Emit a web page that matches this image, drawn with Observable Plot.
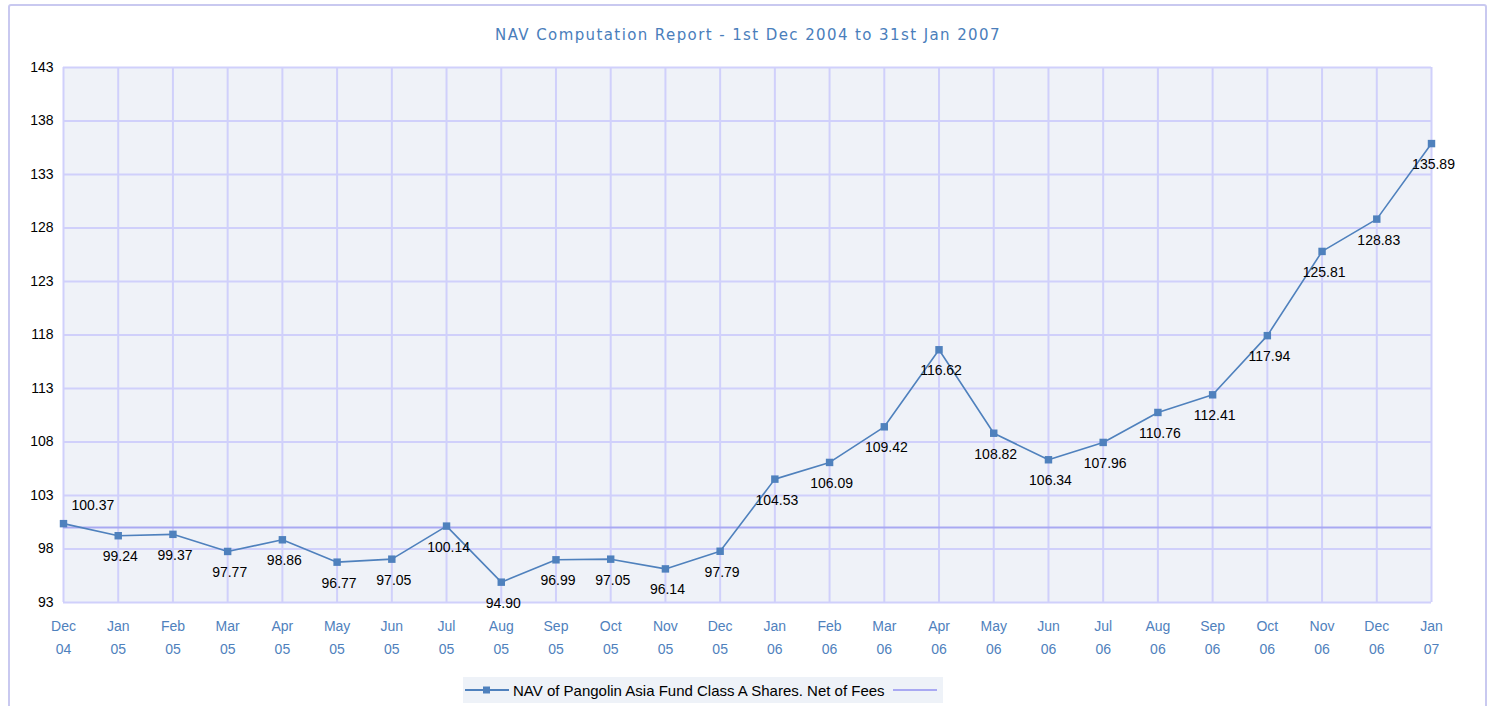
<!DOCTYPE html>
<html>
<head>
<meta charset="utf-8">
<script src="https://cdn.jsdelivr.net/npm/d3@7"></script>
<script src="https://cdn.jsdelivr.net/npm/@observablehq/plot@0.6"></script>
<style>
  html, body { margin: 0; padding: 0; background: #fff; }
  body { width: 1491px; height: 706px; position: relative; overflow: hidden; font-family: "Liberation Sans", Arial, sans-serif; }
  #frame { position: absolute; left: 8px; top: 4px; width: 1479px; height: 720px; border: 2px solid #c9c9f0; border-radius: 3px; box-sizing: border-box; }
  #title { position: absolute; left: 0; top: 26px; width: 1496px; text-align: center; font-family: "DejaVu Sans", sans-serif; font-size: 15px; color: #4a7ebb; letter-spacing: 1.4px; }
  #chart { position: absolute; left: 0; top: 50px; }
  #legend { position: absolute; left: 463px; top: 677px; width: 480px; height: 26px; background: #eef2f8; display: flex; align-items: center; font-size: 15px; letter-spacing: 0px; color: #000; }
  #legend svg { display: block; }
</style>
</head>
<body>
<div id="frame"></div>
<div id="title">NAV Computation Report - 1st Dec 2004 to 31st Jan 2007</div>
<div id="chart"></div>
<div id="legend">
  <svg width="50" height="12" style="margin-left:0px"><line x1="2" x2="46" y1="6" y2="6" stroke="#4f81bd" stroke-width="2"/><rect x="20" y="2.5" width="7" height="7" fill="#4f81bd"/></svg>
  <span style="margin-left:0px">NAV of Pangolin Asia Fund Class A Shares. Net of Fees</span>
  <svg width="50" height="12" style="margin-left:6px"><line x1="2" x2="46" y1="6" y2="6" stroke="#a9a9f2" stroke-width="2"/></svg>
</div>
<script>
const months = ["Dec 04","Jan 05","Feb 05","Mar 05","Apr 05","May 05","Jun 05","Jul 05","Aug 05","Sep 05","Oct 05","Nov 05","Dec 05",
  "Jan 06","Feb 06","Mar 06","Apr 06","May 06","Jun 06","Jul 06","Aug 06","Sep 06","Oct 06","Nov 06","Dec 06","Jan 07"];
const nav = [100.37, 99.24, 99.37, 97.77, 98.86, 96.77, 97.05, 100.14, 94.90, 96.99, 97.05, 96.14, 97.79,
  104.53, 106.09, 109.42, 116.62, 108.82, 106.34, 107.96, 110.76, 112.41, 117.94, 125.81, 128.83, 135.89];
const yTicks = [93, 98, 103, 108, 113, 118, 123, 128, 133, 138, 143];
const baseline = 100;

const data = months.map((m, i) => ({month: m, nav: nav[i], label: nav[i].toFixed(2)}));
const first = data.slice(0, 1);
const rest = data.slice(1);

const grid = "#d0d0fb";
const chart = Plot.plot({
  width: 1491,
  height: 612,
  marginLeft: 63,
  marginRight: 60,
  marginTop: 17,
  marginBottom: 60,
  style: {fontFamily: "Liberation Sans, Arial, sans-serif", fontSize: "14px", background: "transparent", overflow: "visible"},
  x: {type: "point", domain: months, padding: 0, round: false, label: null},
  y: {domain: [93, 143], ticks: yTicks, label: null},
  marks: [
    Plot.frame({fill: "#eff2f8", stroke: null}),
    Plot.ruleX(months, {stroke: grid, strokeWidth: 2}),
    Plot.ruleY(yTicks, {stroke: grid, strokeWidth: 2}),
    Plot.ruleY([baseline], {stroke: "#a9a9f2", strokeWidth: 2}),
    Plot.axisY({ticks: yTicks, tickSize: 0, tickPadding: 10, fill: "#000", fontSize: 14, style: {letterSpacing: "-1px"}}),
    Plot.axisX({tickSize: 0, tickPadding: 12, fill: "#4f81bd", fontSize: 14, lineHeight: 1.65,
      tickFormat: d => d.replace(" ", "\n"), style: {letterSpacing: "-0.8px"}}),
    Plot.line(data, {x: "month", y: "nav", stroke: "#4f81bd", strokeWidth: 1.6}),
    Plot.dot(data, {x: "month", y: "nav", symbol: "square", r: 4.2, fill: "#4f81bd", stroke: null}),
    Plot.text(first, {x: "month", y: "nav", text: "label", textAnchor: "start", dx: 8, dy: -18, fill: "#000", fontSize: 14, style: {letterSpacing: "-1px"}}),
    Plot.text(rest, {x: "month", y: "nav", text: "label", dx: 2, dy: 21, fill: "#000", fontSize: 14, style: {letterSpacing: "-1px"}})
  ]
});
document.getElementById("chart").appendChild(chart);
</script>
</body>
</html>
